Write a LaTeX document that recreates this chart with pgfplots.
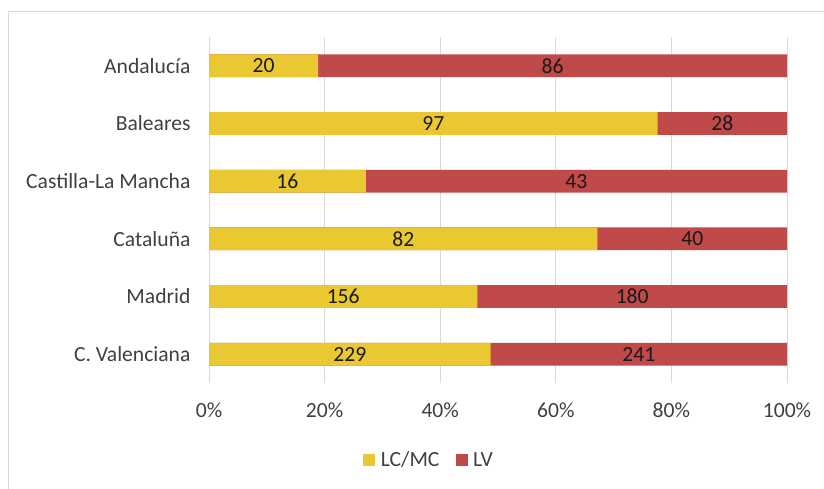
\documentclass[border=0pt]{standalone}
\usepackage{pgfplots}
\pgfplotsset{compat=1.18}
\usepackage{pgfplotstable}
\usepackage{fontspec}
\setmainfont{Carlito}
\definecolor{lcyellow}{HTML}{E9C832}
\definecolor{lvred}{HTML}{C0494A}
\definecolor{gridgray}{HTML}{D9D9D9}
\definecolor{txt}{HTML}{404040}
\definecolor{datatxt}{HTML}{1A1A1A}
\newcommand{\chartfont}{\fontsize{21.6}{25}\selectfont}

% y: 0 = C. Valenciana ... 5 = Andalucia ; pctlc = LC/MC share (%)
\pgfplotstableread{
y lc lv pctlc total
0 229 241 48.723 100
1 156 180 46.429 100
2 82 40 67.213 100
3 16 43 27.119 100
4 97 28 77.600 100
5 20 86 18.868 100
}\bars

% data labels at the centre of each segment
\pgfplotstableread{
x y label
24.362 0 229
74.362 0 241
23.214 1 156
73.214 1 180
33.607 2 82
83.607 2 40
13.559 3 16
63.559 3 43
38.800 4 97
88.800 4 28
9.434 5 20
59.434 5 86
}\labels

\begin{document}
\begin{tikzpicture}
\useasboundingbox (0pt,0pt) rectangle (824pt,488pt);
\draw[gridgray, line width=0.9pt] (8pt,-10pt) -- (8pt,477pt) -- (840pt,477pt);
\begin{axis}[
  at={(209pt,105pt)}, anchor=south west,
  scale only axis, width=578pt, height=346pt,
  xmin=0, xmax=100, ymin=-0.5, ymax=5.5,
  axis line style={draw=none},
  major tick length=0pt,
  xtick={0,20,40,60,80,100},
  xticklabel={\pgfmathprintnumber{\tick}\%},
  ytick={0,1,2,3,4,5},
  yticklabels={C. Valenciana, Madrid, Cataluña, Castilla-La Mancha, Baleares, Andalucía},
  xmajorgrids, ymajorgrids=false,
  grid style={gridgray, line width=0.9pt},
  tick label style={font=\chartfont, text=txt},
  /pgf/number format/assume math mode=true,
  xticklabel style={yshift=-16pt},
  yticklabel style={xshift=-15pt},
  clip=false,
  legend style={at={(0.3807,-0.2225)}, anchor=center, draw=none, fill=none,
    legend columns=2, font=\chartfont, text=txt,
    /tikz/every odd column/.append style={column sep=4pt},
    /tikz/every even column/.append style={column sep=14pt}},
]
\addplot[xbar, bar width=22.7pt, bar shift=0pt, fill=lvred, draw=none, forget plot]
  table[x=total, y=y] {\bars};
\addplot[xbar, bar width=22.7pt, bar shift=0pt, fill=lcyellow, draw=none, forget plot]
  table[x=pctlc, y=y] {\bars};
\addplot[draw=none, mark=none, forget plot, nodes near coords, point meta=explicit symbolic,
  nodes near coords style={anchor=center, font=\chartfont, text=datatxt}]
  table[x=x, y=y, meta=label] {\labels};
\addlegendimage{legend image code/.code={\fill[lcyellow] (0pt,-5.6pt) rectangle (11.3pt,5.6pt);}}
\addlegendentry{LC/MC}
\addlegendimage{legend image code/.code={\fill[lvred] (0pt,-5.6pt) rectangle (11.3pt,5.6pt);}}
\addlegendentry{LV}
\end{axis}
\end{tikzpicture}
\end{document}
